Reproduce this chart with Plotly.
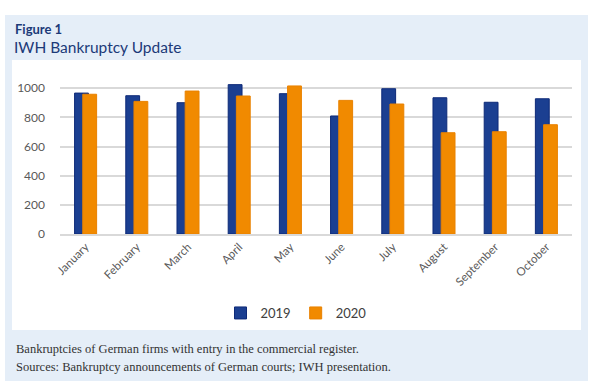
import plotly.graph_objects as go

months = ["January", "February", "March", "April", "May", "June", "July",
          "August", "September", "October"]
values_2019 = [967, 949, 901, 1025, 963, 810, 997, 935, 904, 928]
values_2020 = [959, 910, 981, 947, 1016, 917, 892, 695, 702, 750]
y_ticks = [0, 200, 400, 600, 800, 1000]

W, H = 600, 389
L, R, T, B = 60, 28, 81, 155
pw, ph = W - L - R, H - T - B


def px(x):
    return (x - L) / pw


def py(y):
    return (H - B - y) / ph


BLUE = "#1b3f91"
ORANGE = "#f18a00"

fig = go.Figure()
fig.add_trace(go.Bar(
    x=months, y=values_2019, name="2019",
    marker=dict(color=BLUE, line=dict(color="#0e2a78", width=1)),
    width=0.27, offset=-0.215,
))
fig.add_trace(go.Bar(
    x=months, y=values_2020, name="2020",
    marker=dict(color=ORANGE, line=dict(color="#e98200", width=1)),
    width=0.27, offset=-0.055,
))

shapes = [
    dict(type="rect", xref="paper", yref="paper", x0=px(5), x1=px(588),
         y0=py(381), y1=py(15), fillcolor="#e5eef8", line=dict(width=0),
         layer="below"),
    dict(type="rect", xref="paper", yref="paper", x0=px(12), x1=px(581),
         y0=py(330), y1=py(60), fillcolor="#ffffff", line=dict(width=0),
         layer="below"),
]

annotations = [
    dict(text="<b>Figure 1</b>", x=px(13), y=py(29), xref="paper", yref="paper",
         xanchor="left", yanchor="middle", showarrow=False,
         font=dict(family="Lato", size=13, color="#1c3a78")),
    dict(text="IWH Bankruptcy Update", x=px(12), y=py(47), xref="paper", yref="paper",
         xanchor="left", yanchor="middle", showarrow=False,
         font=dict(family="Lato", size=15.5, color="#1c3a78")),
    dict(text="Bankruptcies of German firms with entry in the commercial register.",
         x=px(14), y=py(349), xref="paper", yref="paper",
         xanchor="left", yanchor="middle", showarrow=False,
         font=dict(family="Liberation Serif", size=12.5, color="#333333")),
    dict(text="Sources: Bankruptcy announcements of German courts; IWH presentation.",
         x=px(14), y=py(367), xref="paper", yref="paper",
         xanchor="left", yanchor="middle", showarrow=False,
         font=dict(family="Liberation Serif", size=12.5, color="#333333")),
]

fig.update_layout(
    width=W, height=H,
    margin=dict(l=L, r=R, t=T, b=B, pad=0),
    paper_bgcolor="white",
    plot_bgcolor="rgba(0,0,0,0)",
    barmode="overlay",
    shapes=shapes,
    annotations=annotations,
    font=dict(family="Lato", color="#595959", size=11),
    showlegend=True,
    legend=dict(orientation="h", x=px(296), y=py(313), xanchor="center",
                yanchor="middle", font=dict(size=13, color="#404040"),
                bgcolor="rgba(0,0,0,0)", itemwidth=30, traceorder="normal",
                tracegroupgap=0),
    xaxis=dict(tickangle=-45, showgrid=False, showline=True,
               linecolor="#d9d9d9", linewidth=1.5, ticks="",
               tickfont=dict(size=11.5, color="#595959"), fixedrange=True),
    yaxis=dict(range=[0, 1050], tickvals=y_ticks, showgrid=True,
               gridcolor="#d9d9d9", gridwidth=1.5, zeroline=False,
               showline=False, ticks="", ticklen=0,
               tickfont=dict(size=12, color="#595959"), fixedrange=True),
)
fig.update_yaxes(ticklabelstandoff=14)

fig.write_html("out.html", config={"displayModeBar": False},
               post_script="document.body.style.margin='0';")
